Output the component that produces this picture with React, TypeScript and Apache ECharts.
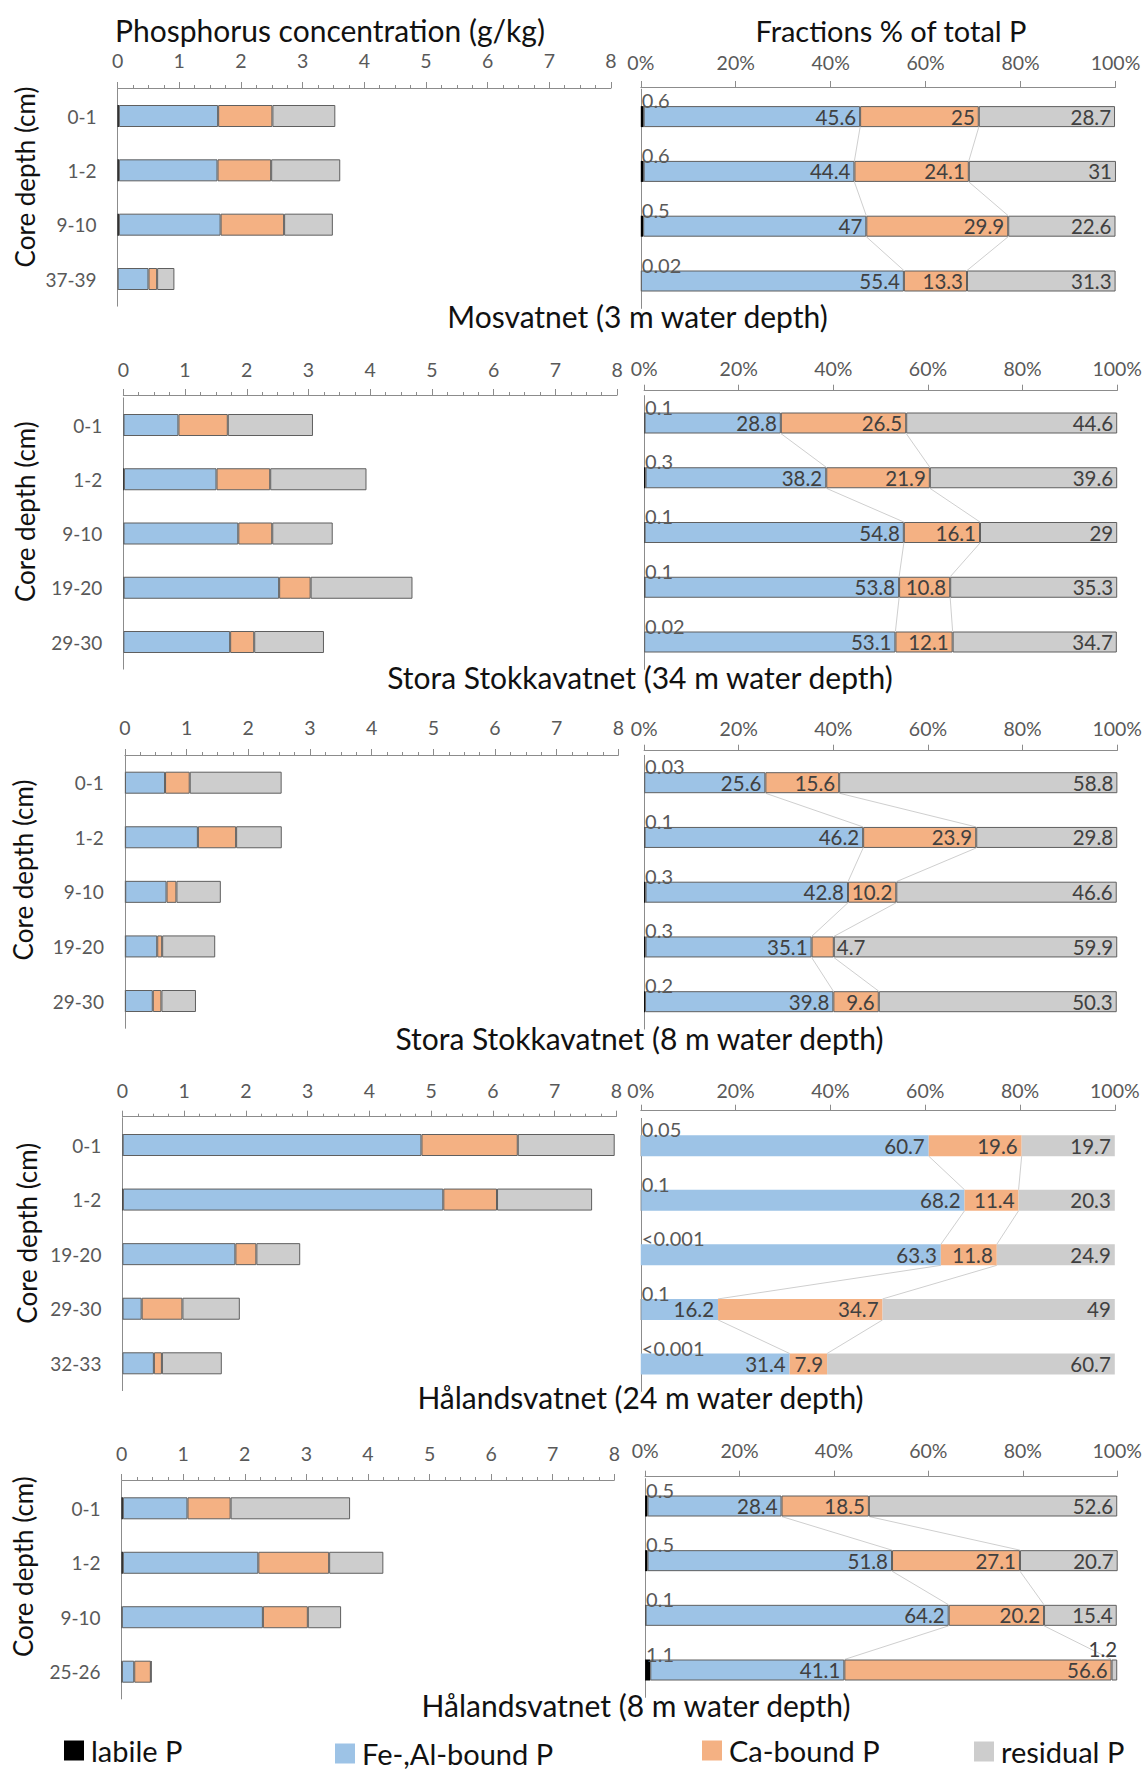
import React, { useEffect, useRef } from 'react';
import * as echarts from 'echarts';

const FONT = 'Lato, "Noto Sans", sans-serif';

const SERIES_NAMES = ['labile P', 'Fe-,Al-bound P', 'Ca-bound P', 'residual P'];
const SERIES_COLORS = ['#000000', '#9dc3e6', '#f4b183', '#cdcdcd'];

const concTitle = 'Phosphorus concentration (g/kg)';
const pctTitle = 'Fractions % of total P';
const yTitle = 'Core depth (cm)';

// Panel 1: Mosvatnet (3 m)
const mosCategories = ['0-1', '1-2', '9-10', '37-39'];
const mosLabileConc = [0.02, 0.02, 0.02, 0.001];
const mosFeConc = [1.61, 1.6, 1.65, 0.5];
const mosCaConc = [0.88, 0.87, 1.03, 0.14];
const mosResConc = [1.02, 1.12, 0.79, 0.28];
const mosLabilePct = [0.6, 0.6, 0.5, 0.02];
const mosFePct = [45.6, 44.4, 47, 55.4];
const mosCaPct = [25, 24.1, 29.9, 13.3];
const mosResPct = [28.7, 31, 22.6, 31.3];

// Panel 2: Stora Stokkavatnet (34 m)
const ss34Categories = ['0-1', '1-2', '9-10', '19-20', '29-30'];
const ss34LabileConc = [0.003, 0.01, 0.003, 0.005, 0.001];
const ss34FeConc = [0.89, 1.5, 1.86, 2.52, 1.73];
const ss34CaConc = [0.8, 0.87, 0.55, 0.51, 0.39];
const ss34ResConc = [1.38, 1.56, 0.98, 1.65, 1.13];
const ss34LabilePct = [0.1, 0.3, 0.1, 0.1, 0.02];
const ss34FePct = [28.8, 38.2, 54.8, 53.8, 53.1];
const ss34CaPct = [26.5, 21.9, 16.1, 10.8, 12.1];
const ss34ResPct = [44.6, 39.6, 29, 35.3, 34.7];

// Panel 3: Stora Stokkavatnet (8 m)
const ss8Categories = ['0-1', '1-2', '9-10', '19-20', '29-30'];
const ss8LabileConc = [0.001, 0.003, 0.005, 0.004, 0.002];
const ss8FeConc = [0.65, 1.18, 0.67, 0.52, 0.45];
const ss8CaConc = [0.4, 0.62, 0.16, 0.08, 0.14];
const ss8ResConc = [1.49, 0.74, 0.72, 0.86, 0.56];
const ss8LabilePct = [0.03, 0.1, 0.3, 0.3, 0.2];
const ss8FePct = [25.6, 46.2, 42.8, 35.1, 39.8];
const ss8CaPct = [15.6, 23.9, 10.2, 4.7, 9.6];
const ss8ResPct = [58.8, 29.8, 46.6, 59.9, 50.3];

// Panel 4: Hålandsvatnet (24 m)
const hv24Categories = ['0-1', '1-2', '19-20', '29-30', '32-33'];
const hv24LabileConc = [0.004, 0.008, 0, 0.002, 0];
const hv24FeConc = [4.84, 5.19, 1.83, 0.31, 0.51];
const hv24CaConc = [1.56, 0.87, 0.34, 0.66, 0.13];
const hv24ResConc = [1.57, 1.54, 0.71, 0.93, 0.97];
const hv24LabilePct = [0.05, 0.1, 0.001, 0.1, 0.001];
const hv24FePct = [60.7, 68.2, 63.3, 16.2, 31.4];
const hv24CaPct = [19.6, 11.4, 11.8, 34.7, 7.9];
const hv24ResPct = [19.7, 20.3, 24.9, 49, 60.7];

// Panel 5: Hålandsvatnet (8 m)
const hv8Categories = ['0-1', '1-2', '9-10', '25-26'];
const hv8LabileConc = [0.02, 0.02, 0.004, 0.005];
const hv8FeConc = [1.05, 2.2, 2.29, 0.2];
const hv8CaConc = [0.7, 1.15, 0.73, 0.27];
const hv8ResConc = [1.94, 0.88, 0.54, 0.01];
const hv8LabilePct = [0.5, 0.5, 0.1, 1.1];
const hv8FePct = [28.4, 51.8, 64.2, 41.1];
const hv8CaPct = [18.5, 27.1, 20.2, 56.6];
const hv8ResPct = [52.6, 20.7, 15.4, 1.2];

const PANELS = [
  {
    title: 'Mosvatnet (3 m water depth)',
    cats: mosCategories,
    conc: [mosLabileConc, mosFeConc, mosCaConc, mosResConc],
    pct: [mosLabilePct, mosFePct, mosCaPct, mosResPct],
  },
  {
    title: 'Stora Stokkavatnet (34 m water depth)',
    cats: ss34Categories,
    conc: [ss34LabileConc, ss34FeConc, ss34CaConc, ss34ResConc],
    pct: [ss34LabilePct, ss34FePct, ss34CaPct, ss34ResPct],
  },
  {
    title: 'Stora Stokkavatnet (8 m water depth)',
    cats: ss8Categories,
    conc: [ss8LabileConc, ss8FeConc, ss8CaConc, ss8ResConc],
    pct: [ss8LabilePct, ss8FePct, ss8CaPct, ss8ResPct],
  },
  {
    title: 'Hålandsvatnet (24 m water depth)',
    cats: hv24Categories,
    conc: [hv24LabileConc, hv24FeConc, hv24CaConc, hv24ResConc],
    pct: [hv24LabilePct, hv24FePct, hv24CaPct, hv24ResPct],
  },
  {
    title: 'Hålandsvatnet (8 m water depth)',
    cats: hv8Categories,
    conc: [hv8LabileConc, hv8FeConc, hv8CaConc, hv8ResConc],
    pct: [hv8LabilePct, hv8FePct, hv8CaPct, hv8ResPct],
  },
];

// layout (pixels)
const LAYOUT = [
  { L: { x0: 117.6, x1: 611, first: 116, last: 279, axisY: 88, labelY: 60 }, R: { x0: 640.8, x1: 1115.5, first: 116.6, last: 281, axisY: 87, labelY: 62 }, titleX: 637.5, titleY: 316, yTX: 24.5, yTY: 177, border: true },
  { L: { x0: 123.3, x1: 617.1, first: 425, last: 642, axisY: 395, labelY: 369 }, R: { x0: 644.1, x1: 1117.2, first: 423, last: 642, axisY: 390.7, labelY: 368 }, titleX: 640, titleY: 677, yTX: 24.5, yTY: 511.7, border: true },
  { L: { x0: 124.9, x1: 618.4, first: 782.7, last: 1001, axisY: 755, labelY: 727 }, R: { x0: 644.1, x1: 1118.2, first: 782.7, last: 1001.7, axisY: 750.7, labelY: 728.3 }, titleX: 639.5, titleY: 1038, yTX: 22.5, yTY: 870, border: true },
  { L: { x0: 122.4, x1: 616.3, first: 1145, last: 1363.3, axisY: 1116.7, labelY: 1090 }, R: { x0: 640.8, x1: 1114.8, first: 1145.7, last: 1364, axisY: 1110.7, labelY: 1090 }, titleX: 640.5, titleY: 1397, yTX: 26.5, yTY: 1233.3, border: false },
  { L: { x0: 121.6, x1: 614.3, first: 1508.3, last: 1671.7, axisY: 1480, labelY: 1453 }, R: { x0: 645.1, x1: 1118.8, first: 1506, last: 1670, axisY: 1476.7, labelY: 1450 }, titleX: 636, titleY: 1705, yTX: 22.5, yTY: 1566.7, border: true },
];

const LEGEND_POS = [
  { left: 64, top: 1736 },
  { left: 335, top: 1739 },
  { left: 702, top: 1736 },
  { left: 974, top: 1737 },
];

const AXIS_GRAY = '#8c8c8c';
const LABEL_GRAY = '#595959';
const VALUE_TEXT = '#404040';
const BAR_L = 22;
const BAR_R = 21;
const TITLE_COLOR = '#111111';

function labileText(v: number) {
  return v <= 0.001 ? '<0.001' : String(v);
}

function buildOption() {
  const grid: any[] = [];
  const xAxis: any[] = [];
  const yAxis: any[] = [];
  const series: any[] = [];
  const graphic: any[] = [];

  PANELS.forEach((p, i) => {
    const lay = LAYOUT[i];
    const n = p.cats.length;
    [lay.L, lay.R].forEach((g, side) => {
      const band = (g.last - g.first) / (n - 1);
      const top = g.first - band / 2;
      grid.push({ left: g.x0, top, width: g.x1 - g.x0, height: band * n, containLabel: false });
      const gi = grid.length - 1;
      const isPct = side === 1;
      xAxis.push({
        type: 'value',
        gridIndex: gi,
        position: 'top',
        offset: top - g.axisY,
        min: 0,
        max: isPct ? 100 : 8,
        interval: isPct ? 20 : 1,
        axisLine: { show: true, lineStyle: { color: AXIS_GRAY, width: 1 } },
        axisTick: { show: true, length: 6, lineStyle: { color: AXIS_GRAY } },
        minorTick: isPct
          ? { show: false }
          : { show: true, splitNumber: 4, length: 3, lineStyle: { color: AXIS_GRAY } },
        splitLine: { show: false },
        minorSplitLine: { show: false },
        axisLabel: {
          margin: g.axisY - g.labelY - 10,
          color: LABEL_GRAY,
          fontSize: 19.5,
          fontFamily: FONT,
          formatter: isPct ? '{value}%' : '{value}',
        },
      });
      yAxis.push({
        type: 'category',
        gridIndex: gi,
        data: p.cats,
        inverse: true,
        axisLine: { show: true, lineStyle: { color: AXIS_GRAY, width: 1 } },
        axisTick: { show: false },
        axisLabel: isPct
          ? { show: false }
          : { margin: 21, color: LABEL_GRAY, fontSize: 19, fontFamily: FONT },
        splitLine: { show: false },
      });
    });

    const li = 2 * i;
    const ri = 2 * i + 1;

    // concentration bars
    p.conc.forEach((vals, k) => {
      series.push({
        type: 'bar',
        name: SERIES_NAMES[k],
        xAxisIndex: li,
        yAxisIndex: li,
        stack: 'conc' + i,
        barWidth: BAR_L,
        silent: true,
        data: vals,
        itemStyle: {
          color: SERIES_COLORS[k],
          borderColor: '#5f5f5f',
          borderWidth: k === 0 ? 0 : 1,
        },
      });
    });

    // percent bars
    p.pct.forEach((vals, k) => {
      const data = vals.map((v) => {
        if (k === 2 && v < 6) {
          return { value: v, label: { position: 'right', distance: 3 } };
        }
        if (k === 3 && v < 6) {
          return {
            value: v,
            label: { position: ['100%', 0], offset: [-3, -10], align: 'right', verticalAlign: 'bottom' },
          };
        }
        return v;
      });
      const label =
        k === 0
          ? {
              show: true,
              position: [1, 4],
              align: 'left',
              verticalAlign: 'bottom',
              color: LABEL_GRAY,
              fontSize: 20,
              fontFamily: FONT,
              formatter: (prm: any) => labileText(prm.value),
            }
          : {
              show: true,
              position: 'insideRight',
              distance: 4,
              color: VALUE_TEXT,
              fontSize: 20.5,
              fontFamily: FONT,
              formatter: (prm: any) => String(prm.value),
            };
      series.push({
        type: 'bar',
        name: SERIES_NAMES[k],
        xAxisIndex: ri,
        yAxisIndex: ri,
        stack: 'pct' + i,
        barWidth: BAR_R,
        silent: true,
        data,
        label,
        labelLayout: { hideOverlap: false },
        itemStyle: {
          color: SERIES_COLORS[k],
          borderColor: '#5f5f5f',
          borderWidth: lay.border && k !== 0 ? 1 : 0,
        },
        z: 3,
      });
    });

    // series lines connecting boundaries
    const links: number[][] = [];
    const cumFe = p.pct[0].map((v, j) => v + p.pct[1][j]);
    const cumCa = cumFe.map((v, j) => v + p.pct[2][j]);
    for (let j = 0; j < n - 1; j++) {
      links.push([cumFe[j], j, cumFe[j + 1], j + 1]);
      links.push([cumCa[j], j, cumCa[j + 1], j + 1]);
    }
    series.push({
      type: 'custom',
      xAxisIndex: ri,
      yAxisIndex: ri,
      silent: true,
      z: 1,
      encode: { x: [0, 2], y: [1, 3] },
      data: links,
      renderItem: (params: any, api: any) => {
        const a = api.coord([api.value(0), api.value(1)]);
        const b = api.coord([api.value(2), api.value(3)]);
        return {
          type: 'line',
          shape: { x1: a[0], y1: a[1] + BAR_R / 2, x2: b[0], y2: b[1] - BAR_R / 2 },
          style: { stroke: '#cfcfcf', lineWidth: 1 },
        };
      },
    });

    // panel title
    graphic.push({
      type: 'text',
      x: lay.titleX,
      y: lay.titleY,
      style: { text: p.title, fontSize: 30, fontFamily: FONT, fill: TITLE_COLOR, align: 'center', verticalAlign: 'middle' },
    });
    // y axis title
    graphic.push({
      type: 'text',
      x: lay.yTX,
      y: lay.yTY,
      rotation: Math.PI / 2,
      style: { text: yTitle, fontSize: 26, fontFamily: FONT, fill: TITLE_COLOR, align: 'center', verticalAlign: 'middle' },
    });
  });

  graphic.push({
    type: 'text',
    x: 330,
    y: 30,
    style: { text: concTitle, fontSize: 30, fontFamily: FONT, fill: TITLE_COLOR, align: 'center', verticalAlign: 'middle' },
  });
  graphic.push({
    type: 'text',
    x: 891,
    y: 30,
    style: { text: pctTitle, fontSize: 29, fontFamily: FONT, fill: TITLE_COLOR, align: 'center', verticalAlign: 'middle' },
  });

  const legend = SERIES_NAMES.map((nm, k) => ({
    data: [nm],
    left: LEGEND_POS[k].left,
    top: LEGEND_POS[k].top,
    padding: 0,
    icon: 'rect',
    itemWidth: 20,
    itemHeight: 20,
    itemGap: 8,
    selectedMode: false,
    itemStyle: { borderWidth: 0 },
    textStyle: { fontSize: 29, fontFamily: FONT, color: TITLE_COLOR, padding: [0, 0, 0, 2] },
  }));

  return {
    animation: false,
    backgroundColor: '#ffffff',
    grid,
    xAxis,
    yAxis,
    series,
    graphic,
    legend,
  };
}

export default function App() {
  const ref = useRef<HTMLDivElement>(null);
  useEffect(() => {
    if (!ref.current) return;
    const chart = echarts.init(ref.current, undefined, { renderer: 'svg' });
    chart.setOption(buildOption() as any);
    return () => chart.dispose();
  }, []);
  return (
    <div
      ref={ref}
      style={{ position: 'absolute', left: 0, top: 0, width: 1145, height: 1771, background: '#fff' }}
    />
  );
}
